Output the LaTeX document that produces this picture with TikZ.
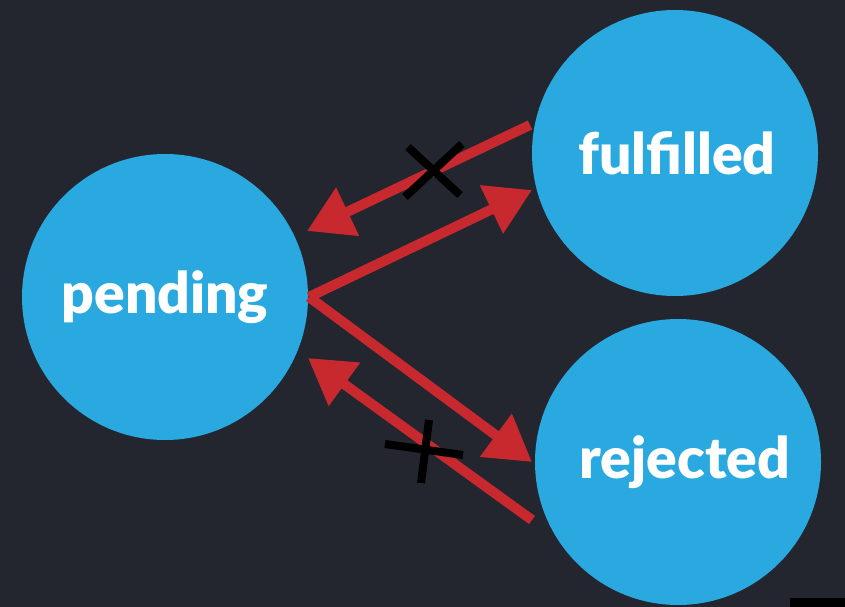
\documentclass[tikz,border=0pt]{standalone}
\usepackage{fontspec}
\setmainfont{Lato}[BoldFont={Lato Black}]
\usetikzlibrary{arrows.meta}
\definecolor{bg}{HTML}{23262E}
\definecolor{cblue}{HTML}{2AA9E0}
\definecolor{cred}{HTML}{C8292F}
\tikzset{
  state/.style={circle, fill=cblue, draw=none, minimum size=286pt, inner sep=0pt,
    text=white, font=\fontsize{57}{68}\selectfont\bfseries},
  link/.style={draw=cred, line width=10pt, -{Triangle[length=45pt,width=51pt]}},
  cross/.style={draw=black, line width=8pt}
}
\begin{document}
\begin{tikzpicture}[x=1pt,y=-1pt]
\fill[bg] (0,0) rectangle (845,607);
\useasboundingbox (0,0) rectangle (845,607);
\fill[black] (790,598) rectangle (845,607);
\node[state] (pend) at (165,297) {pending};
\node[state] (ful) at (675,153) {\hspace*{4pt}fulfilled};
\node[state] (rej) at (678,462) {\hspace*{14pt}rejected};
% arrow end points
\coordinate (p0) at (309,297);
\coordinate (ftip) at (532,190);
\coordinate (rtip) at (532,462);
\coordinate (fback) at (530,125);
\coordinate (ptop) at (307,231);
\coordinate (rback) at (532,520);
\coordinate (pbot) at (308,358);
\draw[link] (p0) -- (ftip);
\draw[link] (p0) -- (rtip);
\draw[link] (fback) -- (ptop);
\draw[link] (rback) -- (pbot);
% crosses
\coordinate (x1a) at (408,147);
\coordinate (x1b) at (460,195);
\coordinate (x1c) at (462,144);
\coordinate (x1d) at (405,197);
\draw[cross] (x1a) -- (x1b);
\draw[cross] (x1c) -- (x1d);
\coordinate (x2a) at (385,444);
\coordinate (x2b) at (463,455);
\coordinate (x2c) at (429,420);
\coordinate (x2d) at (421,483);
\draw[cross] (x2a) -- (x2b);
\draw[cross] (x2c) -- (x2d);
\end{tikzpicture}
\end{document}
